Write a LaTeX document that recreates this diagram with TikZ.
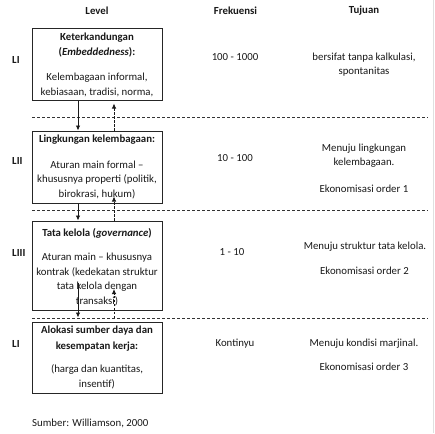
\documentclass[tikz,border=0pt]{standalone}
\usepackage{fontspec}
\setmainfont{Carlito}
\usetikzlibrary{arrows.meta}
\begin{document}
\begin{tikzpicture}[x=1pt,y=-1pt,
  every node/.style={inner sep=0pt,text=black!90,font=\fontsize{10.8}{14.5}\selectfont},
  levelbox/.style={draw=black!85,line width=1pt,minimum width=130pt,rectangle},
  txt/.style={align=center},
  hdr/.style={font=\fontsize{10.8}{14.5}\selectfont\bfseries},
  sep/.style={draw=black!80,line width=0.8pt,dash pattern=on 3pt off 2pt},
  down/.style={draw=black!90,line width=0.8pt,-{Latex[length=5pt,width=4.5pt]}},
  up/.style={draw=black!90,line width=0.8pt,dash pattern=on 2.5pt off 1.5pt,-{Latex[length=5pt,width=4.5pt]}}]
\useasboundingbox (0,0) rectangle (435,433);
\fill[white] (0,0) rectangle (435,433);
\draw[black!12,line width=1pt] (433.5,0) -- (433.5,433);

% headers
\node[hdr] (hL) at (97,11) {Level};
\node[hdr] (hF) at (235.5,11) {Frekuensi};
\node[hdr] (hT) at (364,11) {Tujuan};

% boxes
\node[levelbox,minimum height=71pt] (b1) at (97,64.5) {};
\node[levelbox,minimum height=72pt] (b2) at (97,167) {};
\node[levelbox,minimum height=89pt] (b3) at (97,265.5) {};
\node[levelbox,minimum height=71pt] (b4) at (97,357.5) {};

% box texts
\node[txt,font=\fontsize{10.8}{15}\selectfont\bfseries] (t1a) at (97,45.5) {Keterkandungan\\(\textit{Embeddedness}):};
\node[txt] (t1b) at (97,85) {Kelembagaan informal,\\kebiasaan, tradisi, norma,};
\node[txt,hdr] (t2a) at (97,140) {Lingkungan kelembagaan:};
\node[txt] (t2b) at (97,179.5) {Aturan main formal --\\khususnya properti (politik,\\birokrasi, hukum)};
\node[txt,hdr] (t3a) at (97,233) {Tata kelola (\textit{governance})};
\node[txt] (t3b) at (97,279.5) {Aturan main -- khususnya\\kontrak (kedekatan struktur\\tata kelola dengan\\transaksi)};
\node[txt,font=\fontsize{10.8}{16}\selectfont\bfseries] (t4a) at (97,339) {Alokasi sumber daya dan\\kesempatan kerja:};
\node[txt] (t4b) at (97,377) {(harga dan kuantitas,\\insentif)};

% level labels
\node[hdr,anchor=west] (l1) at (12,60) {LI};
\node[hdr,anchor=west] (l2) at (12,161) {LII};
\node[hdr,anchor=west] (l3) at (12,253) {LIII};
\node[hdr,anchor=west] (l4) at (12,344) {LI};

% frequency
\node (f1) at (235,57) {100 - 1000};
\node (f2) at (235,158) {10 - 100};
\node (f3) at (232,252) {1 - 10};
\node (f4) at (235,344) {Kontinyu};

% tujuan
\node[txt] (g1) at (364,64.5) {bersifat tanpa kalkulasi,\\spontanitas};
\node[txt] (g2a) at (364,155.5) {Menuju lingkungan\\kelembagaan.};
\node (g2b) at (364,189) {Ekonomisasi order 1};
\node (g3a) at (365,247) {Menuju struktur tata kelola.};
\node (g3b) at (364.5,271) {Ekonomisasi order 2};
\node (g4a) at (364,344) {Menuju kondisi marjinal.};
\node (g4b) at (364,367) {Ekonomisasi order 3};

% source
\node[anchor=west] (src) at (32,423) {Sumber: Williamson, 2000};

% separators
\coordinate (d1l) at (32,117); \coordinate (d1r) at (428,117);
\coordinate (d2l) at (32,210); \coordinate (d2r) at (428,210);
\coordinate (d3l) at (32,318); \coordinate (d3r) at (428,318);
\draw[sep] (d1l) -- (d1r);
\draw[sep] (d2l) -- (d2r);
\draw[sep] (d3l) -- (d3r);

% arrows
\coordinate (cl) at (78,0);
\coordinate (cr) at (114,0);
\coordinate (a5s) at (78,283);
\coordinate (a6e) at (114,289);
\draw[down] (b1.south -| cl) -- (b2.north -| cl);
\draw[up,shorten >=3pt] (b2.north -| cr) -- (b1.south -| cr);
\draw[down] (b2.south -| cl) -- (b3.north -| cl);
\draw[up,shorten >=-7pt] (b3.north -| cr) -- (b2.south -| cr);
\draw[down,shorten >=0.5pt] (a5s) -- (d3l -| cl);
\draw[up] (d3l -| cr) -- (a6e);
\end{tikzpicture}
\end{document}
